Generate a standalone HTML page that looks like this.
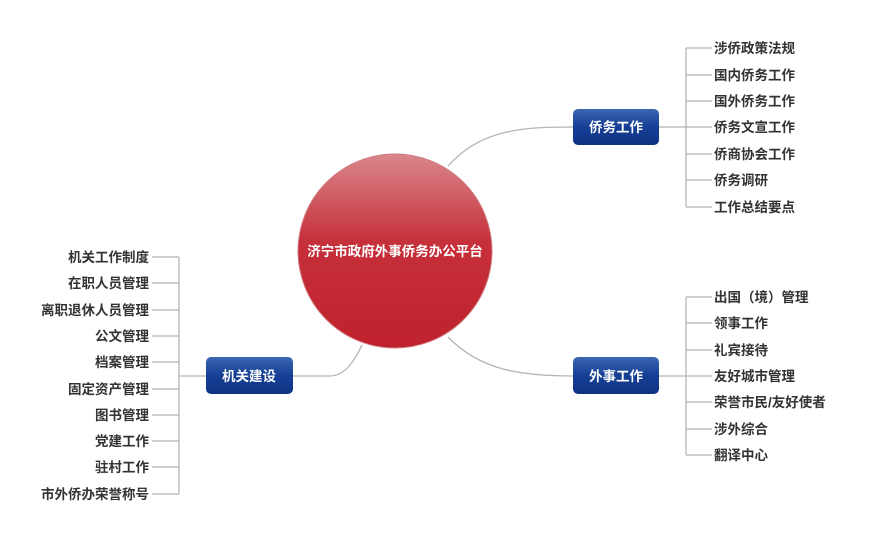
<!DOCTYPE html>
<html><head><meta charset="utf-8"><style>
html,body{margin:0;padding:0;background:#fff;width:872px;height:543px;overflow:hidden}
text{font-family:"Liberation Sans","Noto Sans CJK SC",sans-serif;font-weight:bold;font-size:13.5px;fill:#333}
.w{fill:#fff}
</style></head><body>
<svg width="872" height="543" xmlns="http://www.w3.org/2000/svg">
<defs>
<linearGradient id="rg" x1="0" y1="0" x2="0" y2="1">
<stop offset="0" stop-color="#d9878b"/><stop offset="0.45" stop-color="#c6303a"/><stop offset="1" stop-color="#bf222c"/>
</linearGradient>
<linearGradient id="bg" x1="0" y1="0" x2="0" y2="1">
<stop offset="0" stop-color="#3c66b2"/><stop offset="0.5" stop-color="#163f94"/><stop offset="1" stop-color="#0f3384"/>
</linearGradient>
</defs>
<g fill="none" stroke="#b5b5b5" stroke-width="1.3">
<path d="M448,166 C480,130 520,127 573,127"/>
<path d="M448,337 C480,370 520,376 573,376"/>
<path d="M293,376 L330,376 C345,376 355,360 362,345"/>
<path d="M659,127 H686 M686,48 V207"/>
<path d="M686,48H712 M686,75H712 M686,101H712 M686,127H712 M686,154H712 M686,180H712 M686,207H712"/>
<path d="M659,376 H686 M686,297 V455"/>
<path d="M686,297H712 M686,323H712 M686,350H712 M686,376H712 M686,402H712 M686,429H712 M686,455H712"/>
<path d="M206,376 H179 M179,257 V494"/>
<path d="M152,257H179 M152,283H179 M152,310H179 M152,336H179 M152,362H179 M152,389H179 M152,415H179 M152,441H179 M152,467H179 M152,494H179"/>
</g>
<circle cx="395" cy="251" r="97" fill="url(#rg)" stroke="#d07a80" stroke-width="1"/>
<text class="w" x="395" y="256" text-anchor="middle" font-size="13">济宁市政府外事侨务办公平台</text>
<rect x="573" y="109" width="86" height="36" rx="5" fill="url(#bg)"/>
<text class="w" x="616" y="132" text-anchor="middle">侨务工作</text>
<rect x="573" y="357" width="86" height="37" rx="5" fill="url(#bg)"/>
<text class="w" x="616" y="381" text-anchor="middle">外事工作</text>
<rect x="206" y="357" width="87" height="37" rx="5" fill="url(#bg)"/>
<text class="w" x="249" y="381" text-anchor="middle">机关建设</text>
<g>
<text x="714" y="53">涉侨政策法规</text>
<text x="714" y="80">国内侨务工作</text>
<text x="714" y="106">国外侨务工作</text>
<text x="714" y="132">侨务文宣工作</text>
<text x="714" y="159">侨商协会工作</text>
<text x="714" y="185">侨务调研</text>
<text x="714" y="212">工作总结要点</text>
<text x="714" y="302">出国（境）管理</text>
<text x="714" y="328">领事工作</text>
<text x="714" y="355">礼宾接待</text>
<text x="714" y="381">友好城市管理</text>
<text x="714" y="407">荣誉市民/友好使者</text>
<text x="714" y="434">涉外综合</text>
<text x="714" y="460">翻译中心</text>
</g>
<g text-anchor="end">
<text x="149" y="262">机关工作制度</text>
<text x="149" y="288">在职人员管理</text>
<text x="149" y="315">离职退休人员管理</text>
<text x="149" y="341">公文管理</text>
<text x="149" y="367">档案管理</text>
<text x="149" y="394">固定资产管理</text>
<text x="149" y="420">图书管理</text>
<text x="149" y="446">党建工作</text>
<text x="149" y="472">驻村工作</text>
<text x="149" y="499">市外侨办荣誉称号</text>
</g>
</svg>
</body></html>
